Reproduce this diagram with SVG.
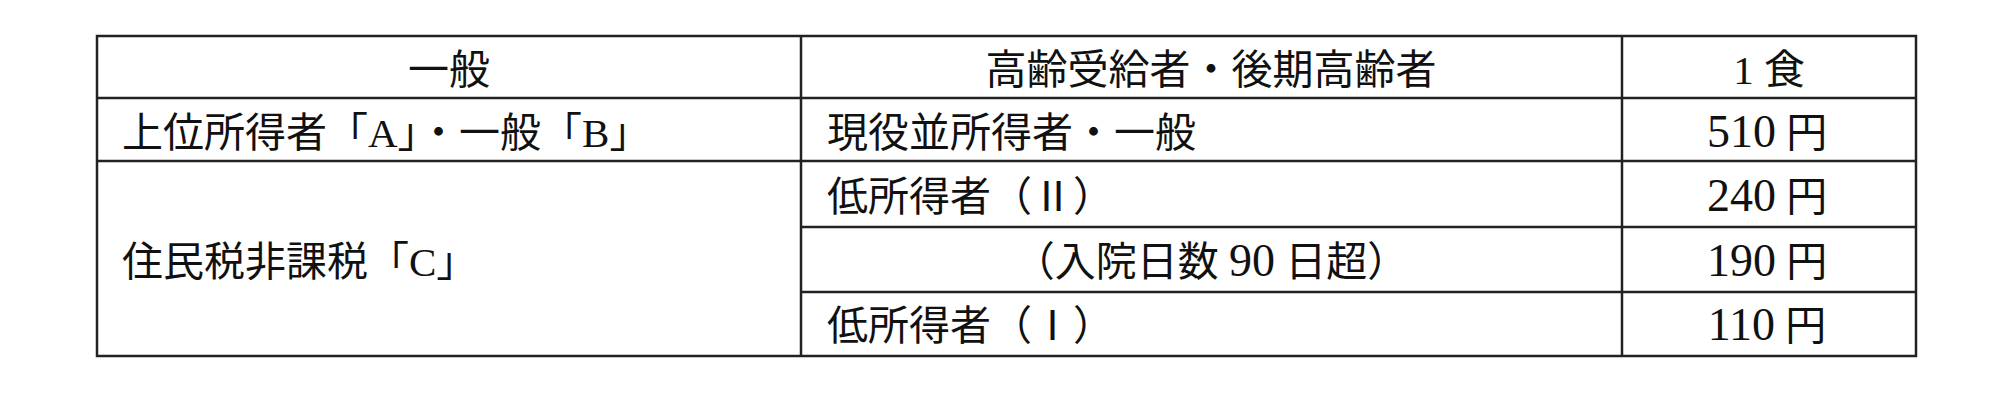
<svg xmlns="http://www.w3.org/2000/svg" width="2000" height="400" viewBox="0 0 2000 400">
<style>
.t{font-family:"Liberation Serif","Noto Sans CJK JP",serif;font-size:41px;fill:#111}
.n{font-size:46px}
.m{text-anchor:middle}
.l{stroke:#222;stroke-width:2.5;fill:none}
</style>
<rect width="2000" height="400" fill="#fff"/>
<g id="grid">
<rect class="l" x="97" y="36" width="1819" height="320"/>
<line class="l" x1="801" y1="36" x2="801" y2="356"/>
<line class="l" x1="1622" y1="36" x2="1622" y2="356"/>
<line class="l" x1="97" y1="98" x2="1916" y2="98"/>
<line class="l" x1="97" y1="161" x2="1916" y2="161"/>
<line class="l" x1="801" y1="227" x2="1916" y2="227"/>
<line class="l" x1="801" y1="292" x2="1916" y2="292"/>
</g>
<g id="header">
<text class="t m" x="449" y="84">一般</text>
<text class="t m" x="1211" y="84">高齢受給者・後期高齢者</text>
<text class="t m" x="1769" y="84">1 食</text>
</g>
<g id="row1">
<text class="t" x="122" y="147">上位所得者「A」・一般「B」</text>
<text class="t" x="827" y="147">現役並所得者・一般</text>
<text class="t m" x="1767" y="147"><tspan class="n">510</tspan> 円</text>
</g>
<g id="row2">
<text class="t" x="122" y="276">住民税非課税「C」</text>
<text class="t" x="827" y="211">低所得者（Ⅱ）</text>
<text class="t m" x="1767" y="211"><tspan class="n">240</tspan> 円</text>
<text class="t m" x="1211" y="276">（入院日数 <tspan class="n">90</tspan> 日超）</text>
<text class="t m" x="1767" y="276"><tspan class="n">190</tspan> 円</text>
<text class="t" x="827" y="340">低所得者（Ⅰ）</text>
<text class="t m" x="1767" y="340"><tspan class="n">110</tspan> 円</text>
</g>
</svg>
